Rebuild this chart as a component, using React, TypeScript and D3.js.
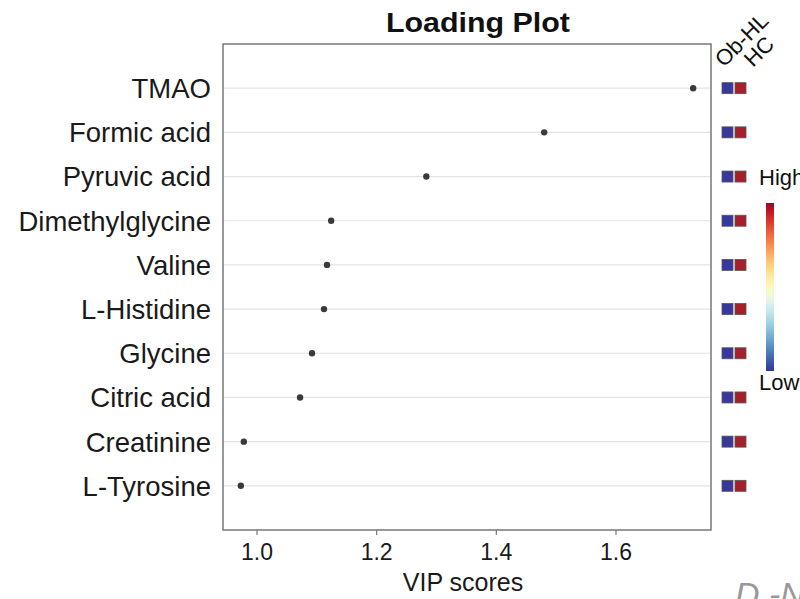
import React from "react";
import * as d3 from "d3";

const metabolites = ["TMAO", "Formic acid", "Pyruvic acid", "Dimethylglycine", "Valine", "L-Histidine", "Glycine", "Citric acid", "Creatinine", "L-Tyrosine"];
const vipScores = [1.729, 1.480, 1.283, 1.124, 1.117, 1.112, 1.092, 1.072, 0.978, 0.973];
const groups = ["Ob-HL", "HC"];
const heatValues = [
  [0, 1], [0, 1], [0, 1], [0, 1], [0, 1], [0, 1], [0, 1], [0, 1], [0, 1], [0, 1],
];
const xTicks = [1.0, 1.2, 1.4, 1.6];

const W = 800, H = 599;
const plot = { left: 223, right: 711, top: 44, bottom: 530 };
const FONT = "'Liberation Sans', Arial, sans-serif";

export default function App() {
  const x = d3.scaleLinear().domain([0.9432, 1.7588]).range([plot.left, plot.right]);
  const y = d3.scalePoint<string>().domain(metabolites).range([plot.top, plot.bottom]).padding(1);
  const heatColor = (v: number) => (v > 0.5 ? "#a5202b" : "#38379c");
  const colX = d3.scalePoint<string>().domain(groups).range([727.5, 740.5]);
  const sq = 11;
  const gradStops = d3.range(0, 1.0001, 0.05);
  const cbar = { x: 766, y: 203, w: 8, h: 168 };

  return (
    <svg width={W} height={H} style={{ position: "absolute", left: 0, top: 0, background: "#fff" }} fontFamily={FONT}>
      <defs>
        <linearGradient id="cb" x1="0" y1="1" x2="0" y2="0">
          {gradStops.map((t) => (
            <stop key={t} offset={`${t * 100}%`} stopColor={d3.interpolateRdYlBu(1 - t)} />
          ))}
        </linearGradient>
      </defs>
      <rect width={W} height={H} fill="#fff" />
      <text x={478} y={32} textAnchor="middle" fontWeight="bold" fontSize={27} fill="#111" textLength={184} lengthAdjust="spacingAndGlyphs">Loading Plot</text>

      {metabolites.map((m) => (
        <line key={"g" + m} x1={plot.left} x2={plot.right} y1={y(m)} y2={y(m)} stroke="#e3e3e3" strokeWidth={1.2} />
      ))}
      <rect x={plot.left} y={plot.top} width={plot.right - plot.left} height={plot.bottom - plot.top} fill="none" stroke="#777" strokeWidth={1.5} />

      {metabolites.map((m) => (
        <text key={"l" + m} x={211} y={(y(m) as number)} dy="0.36em" textAnchor="end" fontSize={27.5} fill="#1a1a1a">{m}</text>
      ))}

      {metabolites.map((m, i) => (
        <circle key={"p" + m} cx={x(vipScores[i])} cy={y(m)} r={3.2} fill="#3a3a3a" />
      ))}

      {xTicks.map((t) => (
        <g key={"t" + t}>
          <line x1={x(t)} x2={x(t)} y1={plot.bottom} y2={plot.bottom + 5} stroke="#777" strokeWidth={1.2} />
          <text x={x(t)} y={plot.bottom + 30} textAnchor="middle" fontSize={23} fill="#1a1a1a">{d3.format(".1f")(t)}</text>
        </g>
      ))}
      <text x={463} y={591} textAnchor="middle" fontSize={25} fill="#1a1a1a">VIP scores</text>

      {metabolites.map((m, i) =>
        groups.map((g, j) => (
          <rect key={"h" + m + g} x={(colX(g) as number) - sq / 2} y={(y(m) as number) - sq / 2} width={sq} height={sq}
            fill={heatColor(heatValues[i][j])} stroke="#555" strokeWidth={0.8} />
        ))
      )}
      <text transform="translate(724,68) rotate(-45)" fontSize={22} fill="#111">{groups[0]}</text>
      <text transform="translate(753,68) rotate(-45)" fontSize={22} fill="#111">{groups[1]}</text>

      <rect x={cbar.x} y={cbar.y} width={cbar.w} height={cbar.h} fill="url(#cb)" />
      <text x={759} y={185} fontSize={22} fill="#111">High</text>
      <text x={759} y={390} fontSize={22} fill="#111">Low</text>

      <text x={735} y={606} fontSize={34} fontStyle="italic" fill="#999">D -N</text>
    </svg>
  );
}
